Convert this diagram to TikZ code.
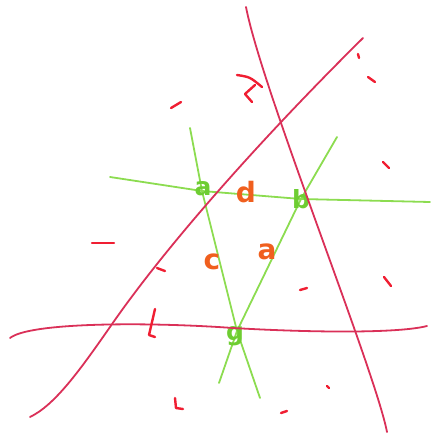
\documentclass[tikz,border=0pt]{standalone}
\usepackage{tikz}
\usepackage{xcolor}
\usepackage{fontspec}
\setsansfont{DejaVu Sans}
\usetikzlibrary{arrows.meta,calc}
\definecolor{lred}{RGB}{218,48,88}
\definecolor{mred}{RGB}{240,30,50}
\definecolor{lgreen}{RGB}{140,220,80}
\definecolor{dgreen}{RGB}{110,205,50}
\definecolor{lorange}{RGB}{240,95,30}

\begin{document}
\begin{tikzpicture}[x=1pt,y=-1pt,
  redline/.style={lred,line width=1.8pt,line cap=round},
  greenline/.style={lgreen,line width=1.8pt,line cap=round},
  tick/.style={mred,line width=2.4pt,line cap=round,line join=round},
  vlabel/.style={dgreen,font=\fontsize{25}{25}\selectfont\sffamily\bfseries},
  elabel/.style={lorange,font=\fontsize{28}{28}\selectfont\sffamily\bfseries}]
\useasboundingbox (0,0) rectangle (437,439);
\coordinate (A) at (202,191);
\coordinate (B) at (301,199);
\coordinate (C) at (237,331);
\coordinate (p1) at (190,128);
\coordinate (p2) at (260,398);
\coordinate (q1) at (337,137);
\coordinate (q2) at (219,383);
\coordinate (r1) at (110,177);
\coordinate (r2) at (430,202);
\draw[greenline](p1)--(A)--(C)--(p2);
\draw[greenline](q1)--(B)--(C)--(q2);
\draw[greenline](r1)--(A)--(B)--(r2);
\node[vlabel] (la) at ($(A)+(1,-2)$) {a};
\node[vlabel] (lb) at (B) {b};
\node[vlabel] (lc) at ($(C)+(-2,5)$) {g};
\draw[redline](246,7) .. controls (262,90) and (375,370) .. (387,432);
\draw[redline](30,417) .. controls (55,405) and (80,370) .. (110,327)
  .. controls (170,240) and (270,130) .. (363,38);
\draw[redline](10,338) .. controls (30,322) and (150,322) .. (233,328)
  .. controls (320,333) and (400,333) .. (427,326);
\node[elabel] (ed) at (246,192) {d};
\node[elabel] (ec) at (212,262) {c};
\node[elabel] (ea) at (267,252) {a};
\draw[tick](92,243)--(114,243);
\draw[tick](171,108)--(181,102);
\draw[tick](237,75) .. controls (250,77) .. (262,87) (255,85)--(245,94)--(252,102);
\draw[tick](358,54)--(359,58);
\draw[tick](368,77)--(375,82);
\draw[tick](383,162)--(389,168);
\draw[tick](384,277)--(391,286);
\draw[tick](300,290)--(307,288);
\draw[tick](157,268)--(165,271);
\draw[tick](155,309)--(149,335)--(155,337);
\draw[tick](175,398)--(176,408)--(183,409);
\draw[tick](327,386)--(329,388);
\draw[tick](281,413)--(287,411);
\end{tikzpicture}
\end{document}
